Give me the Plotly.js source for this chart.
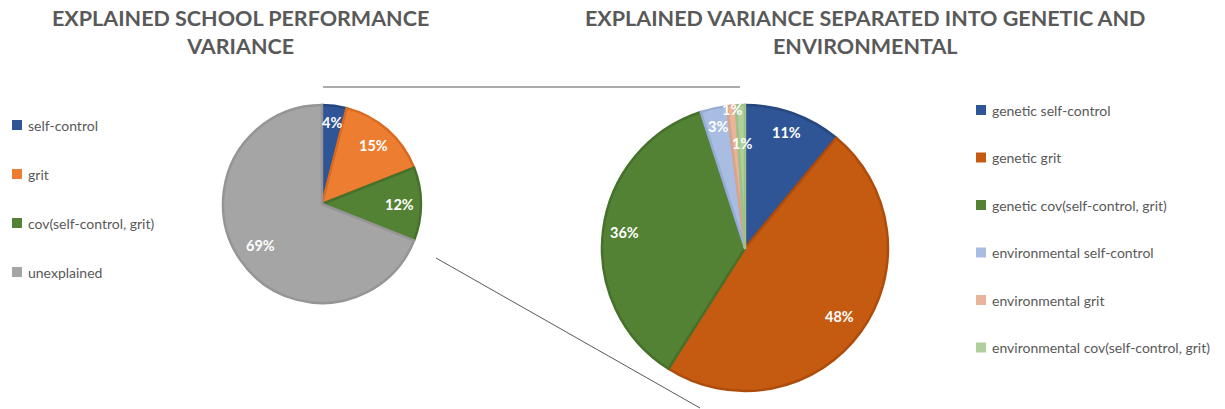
<!DOCTYPE html>
<html>
<head>
<meta charset="utf-8">
<script src="https://cdn.plot.ly/plotly-3.0.1.min.js"></script>
<style>html,body{margin:0;padding:0;background:#fff;}#chart{width:1225px;height:409px;}</style>
</head>
<body>
<div id="chart"></div>
<script>
// ---- data ----
const leftLabels = ["self-control", "grit", "cov(self-control, grit)", "unexplained"];
const leftValues = [4, 15, 12, 69];
const leftColors = ["#2F5597", "#ED7D31", "#548235", "#A5A5A5"];
const leftLines  = ["#264680", "#D86B20", "#46702B", "#959595"];

const rightLabels = ["genetic self-control", "genetic grit", "genetic cov(self-control, grit)",
                     "environmental self-control", "environmental grit", "environmental cov(self-control, grit)"];
const rightValues = [11, 48, 36, 3, 1, 1];
const rightColors = ["#2F5597", "#C55A11", "#548235", "#A9BCE1", "#E8B59B", "#AFD09C"];
const rightLines  = ["#26477F", "#AE4C0C", "#46712B", "#97ACD4", "#D9A489", "#9DC189"];

const leftTitle = "EXPLAINED SCHOOL PERFORMANCE<br>VARIANCE";
const rightTitle = "EXPLAINED VARIANCE SEPARATED INTO GENETIC AND<br>ENVIRONMENTAL";

// ---- layout helpers (positions/styles) ----
const W = 1225, H = 409;
const px = x => x / W;
const py = y => 1 - y / H;
const FONT = "Lato, 'Open Sans', sans-serif";
const GREY = "#595959";

// pie geometry in pixels (center and radius)
const LP = { cx: 322, cy: 204, r: 99 };
const RP = { cx: 745, cy: 248, r: 143 };
// radial placement of the percentage labels (fraction of radius)
const leftLabelR  = [0.83, 0.79, 0.78, 0.75];
const rightLabelR = [0.86, 0.82, 0.85, 0.87, 0.97, 0.73];

function pieTrace(labels, values, colors, lines, g) {
  return {
    type: "pie", labels: labels, values: values, sort: false,
    direction: "clockwise", rotation: 0,
    marker: { colors: colors, line: { color: lines, width: 2.5 } },
    textinfo: "none",
    domain: { x: [px(g.cx - g.r), px(g.cx + g.r)], y: [py(g.cy + g.r), py(g.cy - g.r)] },
    showlegend: false, hoverinfo: "label+percent"
  };
}

const traces = [
  pieTrace(leftLabels, leftValues, leftColors, leftLines, LP),
  pieTrace(rightLabels, rightValues, rightColors, rightLines, RP)
];

const annotations = [];
const shapes = [];

// percentage labels, placed from the data values
function sliceLabels(values, g, fracs) {
  const total = values.reduce((a, b) => a + b, 0);
  let cum = 0;
  values.forEach((v, i) => {
    const mid = (cum + v / 2) / total * 2 * Math.PI;
    cum += v;
    const x = g.cx + fracs[i] * g.r * Math.sin(mid);
    const y = g.cy - fracs[i] * g.r * Math.cos(mid);
    annotations.push({ xref: "paper", yref: "paper", x: px(x), y: py(y),
      xanchor: "center", yanchor: "middle", showarrow: false,
      text: Math.round(v / total * 100) + "%",
      font: { family: FONT, size: 14.5, color: "#ffffff", weight: "bold" } });
  });
}
sliceLabels(leftValues, LP, leftLabelR);
sliceLabels(rightValues, RP, rightLabelR);

// titles
annotations.push({ xref: "paper", yref: "paper", x: px(240), y: py(3), xanchor: "center", yanchor: "top",
  text: leftTitle, showarrow: false, align: "center",
  font: { family: FONT, size: 21.5, color: GREY, weight: "bold" } });
annotations.push({ xref: "paper", yref: "paper", x: px(865), y: py(3), xanchor: "center", yanchor: "top",
  text: rightTitle, showarrow: false, align: "center",
  font: { family: FONT, size: 21.5, color: GREY, weight: "bold" } });

// legends built from the label/colour arrays
function addLegend(labels, colors, x0, y0, step) {
  labels.forEach((lab, i) => {
    const yc = y0 + i * step;
    shapes.push({ type: "rect", xref: "paper", yref: "paper",
      x0: px(x0), x1: px(x0 + 10), y0: py(yc + 5), y1: py(yc - 5),
      fillcolor: colors[i], line: { width: 0 } });
    annotations.push({ xref: "paper", yref: "paper", x: px(x0 + 14), y: py(yc),
      xanchor: "left", yanchor: "middle", text: lab, showarrow: false,
      font: { family: FONT, size: 14, color: GREY } });
  });
}
addLegend(leftLabels, leftColors, 12, 125, 49);
addLegend(rightLabels, rightColors, 976, 110, 47.5);

// connector lines
shapes.push({ type: "line", xref: "paper", yref: "paper", x0: px(323), y0: py(87), x1: px(740), y1: py(87),
  line: { color: "#595959", width: 1 } });
shapes.push({ type: "line", xref: "paper", yref: "paper", x0: px(436), y0: py(258), x1: px(700), y1: py(408),
  line: { color: "#595959", width: 1 } });

const layout = {
  width: W, height: H,
  margin: { l: 0, r: 0, t: 0, b: 0 },
  paper_bgcolor: "#ffffff",
  showlegend: false,
  annotations: annotations,
  shapes: shapes
};

Plotly.newPlot("chart", traces, layout, { displayModeBar: false, staticPlot: true });
</script>
</body>
</html>
